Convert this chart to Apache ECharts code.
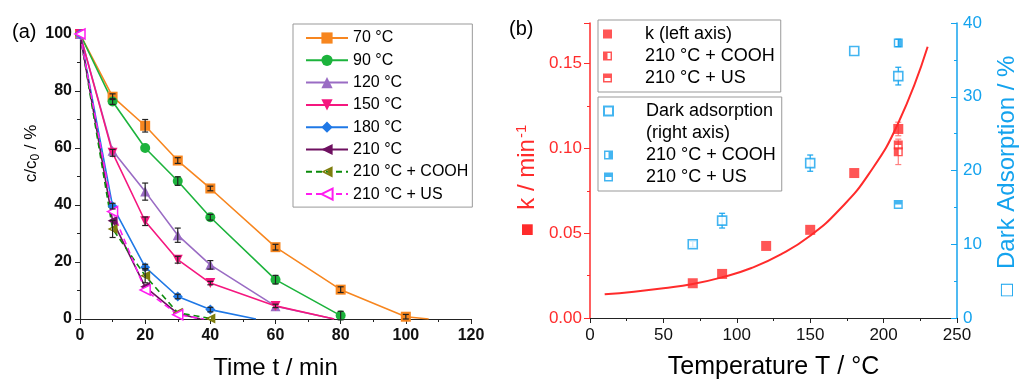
<!DOCTYPE html>
<html>
<head>
<meta charset="utf-8">
<script src="https://cdn.jsdelivr.net/npm/echarts@6/dist/echarts.min.js"></script>
<style>
  html, body { margin: 0; padding: 0; background: #fff; }
  #chart { width: 1020px; height: 385px; }
</style>
</head>
<body>
<div id="chart"></div>
<script>
// ---- panel (a): c/c0 (%) vs time (min) ----
const c70 = [[0, 100], [10, 78], [20, 67.8], [30, 55.6], [40, 45.8], [60, 25.2], [80, 10.3], [100, 0.8], [107, 0]]
const c90 = [[0, 100], [10, 76.3], [20, 60], [30, 48.4], [40, 35.7], [60, 13.8], [80, 1.2]]
const c120 = [[0, 100], [10, 59], [20, 44.7], [30, 29.4], [40, 19], [60, 4.5], [78, 0]]
const c150 = [[0, 100], [10, 58.3], [20, 34.3], [30, 20.8], [40, 12.6], [60, 4.6], [78, 0]]
const c180 = [[0, 100], [10, 39.6], [20, 18.2], [30, 7.9], [40, 3.3], [54, 0]]
const c210 = [[0, 100], [10, 34.5], [20, 11.3], [30, 1.9], [37, 0]]
const c210Cooh = [[0, 100], [10, 31.6], [20, 15.2], [30, 2.2], [40, 0.2]]
const c210Us = [[0, 100], [10, 37.7], [20, 10.2], [30, 1.5], [38, 0]]
// [t, value, +/- error]
const errA = [
  [10, 78, 1], [20, 67.8, 2.2], [30, 55.6, 1], [40, 45.8, 0.8], [60, 25.2, 1], [80, 10.3, 1], [100, 0.8, 0.8],
  [10, 76.3, 1], [30, 48.4, 1.5], [40, 35.7, 1], [60, 13.8, 1.5], [80, 1.2, 1.5],
  [20, 44.7, 3], [30, 29.4, 2.5], [40, 19, 1.5],
  [10, 58.3, 1.2], [20, 34.3, 1.5], [30, 20.8, 1.2], [40, 12.6, 0.6], [60, 4.6, 0.6],
  [10, 39.6, 1], [20, 18.2, 1], [30, 7.9, 0.8], [40, 3.3, 0.8],
  [10, 31.6, 3], [20, 15.2, 2.5]
]

// ---- panel (b): rate constant k and dark adsorption vs temperature ----
const tempK = [70, 90, 120, 150, 180, 210]
const kVals = [0.0205, 0.026, 0.0425, 0.052, 0.0855, 0.1115]
const kCooh = [[210, 0.098]]
const kUs = [[210, 0.102]]
const tempDark = [70, 90, 150, 180, 210]
const darkVals = [10.0, 13.2, 21.0, 36.2, 32.8]
const darkCooh = [[210, 37.3]]
const darkUs = [[210, 15.4]]
// fit curve
const fitT = [10, 30, 50, 70, 90, 110, 130, 150, 170, 190, 210, 230]
const fitK = [0.0140, 0.0155, 0.0175, 0.0200, 0.0240, 0.0295, 0.0375, 0.0485, 0.0640, 0.0850, 0.1150, 0.1600]
const errK = [[210, 0.098, 0.0075], [210, 0.1115, 0.004]]
const errDark = [[70, 10.0, 0.4], [90, 13.2, 1.0], [150, 21.0, 1.1], [210, 32.8, 1.2], [210, 37.3, 0.5]]

const FONT = 'Liberation Sans, Arial, DejaVu Sans, sans-serif'
const RED = '#ff2b2b'
const BLUE = '#14a3ee'

// symbols
const downTri = 'path://M0,0L10,0L5,10Z'
const leftTri = 'path://M0,5L10,0L10,10Z'
const leftTriHalf = 'path://M0,5L10,0L10,10ZM3,5L8.3,7.4L8.3,2.6ZM5.6,3.82L8.3,2.6L8.3,7.4L5.6,6.18Z'
const ring = 'M0,0L10,0L10,10L0,10ZM1.6,1.6L1.6,8.4L8.4,8.4L8.4,1.6Z'
const sqLeftHalf = 'path://' + ring + 'M1.6,1.6L5,1.6L5,8.4L1.6,8.4Z'
const sqRightHalf = 'path://' + ring + 'M5,1.6L8.4,1.6L8.4,8.4L5,8.4Z'
const sqTopHalf = 'path://' + ring + 'M1.6,1.6L8.4,1.6L8.4,5L1.6,5Z'

const legendText = {
  k_cooh: '210 °C + COOH',
  k_us: '210 °C + US',
  dark: 'Dark adsorption',
  darkNote: '(right axis)',
  dark_cooh: '210 °C + COOH',
  dark_us: '210 °C + US'
}

function errBar (params, api) {
  const x = api.value(0)
  const y = api.value(1)
  const e = api.value(2)
  const top = api.coord([x, y + e])
  const bot = api.coord([x, y - e])
  const st = { stroke: api.visual('color'), lineWidth: 1.2 }
  return {
    type: 'group',
    children: [
      { type: 'line', shape: { x1: top[0], y1: top[1], x2: bot[0], y2: bot[1] }, style: st },
      { type: 'line', shape: { x1: top[0] - 3, y1: top[1], x2: top[0] + 3, y2: top[1] }, style: st },
      { type: 'line', shape: { x1: bot[0] - 3, y1: bot[1], x2: bot[0] + 3, y2: bot[1] }, style: st }
    ]
  }
}

// line at the axis end has no marker
function pts (arr) {
  return arr.map((p, i) => (i === arr.length - 1 && p[1] === 0 ? { value: p, symbol: 'none' } : p))
}

function lineA (name, data, color, symbol, extra) {
  return Object.assign({
    name: name,
    type: 'line',
    xAxisIndex: 0,
    yAxisIndex: 0,
    data: pts(data),
    symbol: symbol,
    symbolSize: 10,
    lineStyle: { color: color, width: 1.6 },
    itemStyle: { color: color }
  }, extra || {})
}

const chart = echarts.init(document.getElementById('chart'))
const option = {
  animation: false,
  textStyle: { fontFamily: FONT },
  title: [
    { text: '(a)', left: 7, top: 17, textStyle: { fontSize: 20, fontWeight: 'normal', color: '#000', fontFamily: FONT } },
    { text: '(b)', left: 504, top: 14, textStyle: { fontSize: 20, fontWeight: 'normal', color: '#000', fontFamily: FONT } }
  ],
  grid: [
    { left: 80, top: 34, width: 391, height: 288 },
    { left: 590, top: 23, width: 370, height: 299 }
  ],
  legend: [
    {
      left: 293,
      top: 24,
      orient: 'vertical',
      padding: [4, 4, 3, 12],
      itemGap: 2.3,
      itemWidth: 42,
      itemHeight: 14,
      borderColor: '#999',
      borderWidth: 1,
      textStyle: { fontSize: 16, color: '#000', lineHeight: 20, fontFamily: FONT },
      data: ['70 °C', '90 °C', '120 °C', '150 °C', '180 °C', '210 °C', '210 °C + COOH', '210 °C + US']
    },
    {
      left: 598,
      top: 20,
      orient: 'vertical',
      padding: [4, 6, 4, 5],
      itemGap: 2,
      itemWidth: 9,
      itemHeight: 9,
      borderColor: '#999',
      borderWidth: 1,
      textStyle: { fontSize: 18, color: '#000', lineHeight: 20, padding: [0, 0, 0, 28], fontFamily: FONT },
      formatter: name => legendText[name] || name,
      data: ['k (left axis)', 'k_cooh', 'k_us']
    },
    {
      left: 598,
      top: 97,
      orient: 'vertical',
      padding: [4, 6, 4, 5],
      itemGap: 2,
      itemWidth: 9,
      itemHeight: 9,
      borderColor: '#999',
      borderWidth: 1,
      textStyle: { fontSize: 18, color: '#000', lineHeight: 20, padding: [0, 0, 0, 28], fontFamily: FONT },
      formatter: name => legendText[name] || name,
      data: ['dark', { name: 'darkNote', icon: 'none' }, 'dark_cooh', 'dark_us']
    }
  ],
  xAxis: [
    {
      gridIndex: 0,
      type: 'value',
      min: 0,
      max: 120,
      interval: 20,
      name: 'Time t / min',
      nameLocation: 'middle',
      nameGap: 37,
      nameTextStyle: { fontSize: 24, color: '#000' },
      axisLine: { lineStyle: { color: '#222', width: 1.2 } },
      axisTick: { length: 5, lineStyle: { color: '#222' } },
      minorTick: { show: true, splitNumber: 2, length: 3, lineStyle: { color: '#222' } },
      axisLabel: { fontSize: 16, fontWeight: 'bold', color: '#111', margin: 9 },
      splitLine: { show: false }
    },
    {
      gridIndex: 1,
      type: 'value',
      min: 0,
      max: 250,
      interval: 50,
      name: 'Temperature T / °C',
      nameLocation: 'middle',
      nameGap: 37,
      nameTextStyle: { fontSize: 25, color: '#000' },
      axisLine: { lineStyle: { color: '#222', width: 1.2 } },
      axisTick: { length: 5, lineStyle: { color: '#222' } },
      minorTick: { show: true, splitNumber: 2, length: 3, lineStyle: { color: '#222' } },
      axisLabel: { fontSize: 17, color: '#111', margin: 9 },
      splitLine: { show: false }
    }
  ],
  yAxis: [
    {
      gridIndex: 0,
      type: 'value',
      min: 0,
      max: 100,
      interval: 20,
      name: '{n|c/c}{sub|0}{n| / %}',
      nameLocation: 'middle',
      nameGap: 33,
      nameTextStyle: {
        color: '#000',
        padding: [0, 0, 0, 46],
        rich: {
          n: { fontSize: 17, color: '#000', fontFamily: FONT },
          sub: { fontSize: 12, color: '#000', fontFamily: FONT, verticalAlign: 'top', padding: [8, 0, 0, 0] }
        }
      },
      axisLine: { show: true, lineStyle: { color: '#222', width: 1.2 } },
      axisTick: { show: true, length: 5, lineStyle: { color: '#222' } },
      minorTick: { show: true, splitNumber: 2, length: 3, lineStyle: { color: '#222' } },
      axisLabel: { fontSize: 16, fontWeight: 'bold', color: '#111', margin: 8 },
      splitLine: { show: false }
    },
    {
      gridIndex: 1,
      type: 'value',
      position: 'left',
      min: 0,
      max: 0.174,
      interval: 0.05,
      name: '{s|■}{n|  k / min}{sup|-1}',
      nameLocation: 'middle',
      nameGap: 50,
      nameTextStyle: {
        color: RED,
        padding: [0, 20, 0, 0],
        rich: {
          s: { fontSize: 14, color: RED, fontFamily: 'DejaVu Sans' },
          n: { fontSize: 24, color: RED, fontFamily: FONT },
          sup: { fontSize: 15, color: RED, fontFamily: FONT, verticalAlign: 'bottom', padding: [0, 0, 11, 1] }
        }
      },
      axisLine: { show: true, lineStyle: { color: RED, width: 1.5 } },
      axisTick: { show: true, length: 6, lineStyle: { color: RED } },
      minorTick: { show: true, splitNumber: 2, length: 3, lineStyle: { color: RED } },
      axisLabel: {
        fontSize: 17,
        color: RED,
        margin: 8,
        formatter: v => (Math.abs(v / 0.05 - Math.round(v / 0.05)) < 1e-6 ? v.toFixed(2) : '')
      },
      splitLine: { show: false }
    },
    {
      gridIndex: 1,
      type: 'value',
      position: 'right',
      min: 0,
      max: 40,
      interval: 10,
      name: '{s|□}{n|  Dark Adsorption / %}',
      nameLocation: 'middle',
      nameGap: 38,
      nameRotate: 90,
      nameTextStyle: {
        color: BLUE,
        padding: [0, 12, 0, 0],
        rich: {
          s: { fontSize: 16, color: BLUE, fontFamily: 'DejaVu Sans' },
          n: { fontSize: 24, color: BLUE, fontFamily: FONT }
        }
      },
      axisLine: { show: true, lineStyle: { color: BLUE, width: 1.5 } },
      axisTick: { show: true, inside: true, length: 6, lineStyle: { color: BLUE } },
      minorTick: { show: true, splitNumber: 2, length: 3, lineStyle: { color: BLUE } },
      axisLabel: { fontSize: 17, color: BLUE, margin: 6 },
      splitLine: { show: false }
    }
  ],
  series: [
    lineA('70 °C', c70, '#f7861f', 'rect'),
    lineA('90 °C', c90, '#1cb33c', 'circle'),
    lineA('120 °C', c120, '#9a6cc4', 'triangle'),
    lineA('150 °C', c150, '#f5177f', downTri),
    lineA('180 °C', c180, '#1f78e6', 'diamond'),
    lineA('210 °C', c210, '#6e1060', leftTri),
    lineA('210 °C + COOH', c210Cooh, '#0a8a0a', leftTriHalf, {
      lineStyle: { color: '#0a8a0a', width: 1.6, type: [6, 4] },
      itemStyle: { color: '#7d7d0c' }
    }),
    lineA('210 °C + US', c210Us, '#ff1cf0', leftTri, {
      lineStyle: { color: '#ff1cf0', width: 1.6, type: [6, 4] },
      itemStyle: { color: '#fff', borderColor: '#ff1cf0', borderWidth: 1.5 }
    }),
    {
      name: 'errA',
      type: 'custom',
      xAxisIndex: 0,
      yAxisIndex: 0,
      renderItem: errBar,
      encode: { x: 0, y: 1 },
      itemStyle: { color: '#222' },
      z: 5,
      data: errA
    },
    // panel (b)
    {
      name: 'fit',
      type: 'line',
      xAxisIndex: 1,
      yAxisIndex: 1,
      smooth: true,
      symbol: 'none',
      lineStyle: { color: RED, width: 2 },
      data: fitT.map((t, i) => [t, fitK[i]])
    },
    {
      name: 'k (left axis)',
      type: 'scatter',
      xAxisIndex: 1,
      yAxisIndex: 1,
      symbol: 'rect',
      symbolSize: 10,
      itemStyle: { color: RED },
      data: tempK.map((t, i) => [t, kVals[i]])
    },
    {
      name: 'k_cooh',
      type: 'scatter',
      xAxisIndex: 1,
      yAxisIndex: 1,
      symbol: sqLeftHalf,
      symbolSize: 9,
      itemStyle: { color: RED },
      data: kCooh
    },
    {
      name: 'k_us',
      type: 'scatter',
      xAxisIndex: 1,
      yAxisIndex: 1,
      symbol: sqTopHalf,
      symbolSize: 9,
      itemStyle: { color: RED },
      data: kUs
    },
    {
      name: 'dark',
      type: 'scatter',
      xAxisIndex: 1,
      yAxisIndex: 2,
      symbol: 'rect',
      symbolSize: 9,
      itemStyle: { color: '#fff', borderColor: BLUE, borderWidth: 1.6 },
      data: tempDark.map((t, i) => [t, darkVals[i]])
    },
    {
      name: 'darkNote',
      type: 'scatter',
      xAxisIndex: 1,
      yAxisIndex: 2,
      data: []
    },
    {
      name: 'dark_cooh',
      type: 'scatter',
      xAxisIndex: 1,
      yAxisIndex: 2,
      symbol: sqRightHalf,
      symbolSize: 9,
      itemStyle: { color: BLUE },
      data: darkCooh
    },
    {
      name: 'dark_us',
      type: 'scatter',
      xAxisIndex: 1,
      yAxisIndex: 2,
      symbol: sqTopHalf,
      symbolSize: 9,
      itemStyle: { color: BLUE },
      data: darkUs
    },
    {
      name: 'errK',
      type: 'custom',
      xAxisIndex: 1,
      yAxisIndex: 1,
      renderItem: errBar,
      encode: { x: 0, y: 1 },
      itemStyle: { color: '#ff8080' },
      data: errK
    },
    {
      name: 'errDark',
      type: 'custom',
      xAxisIndex: 1,
      yAxisIndex: 2,
      renderItem: errBar,
      encode: { x: 0, y: 1 },
      itemStyle: { color: BLUE },
      data: errDark
    }
  ]
}
chart.setOption(option)
</script>
</body>
</html>
